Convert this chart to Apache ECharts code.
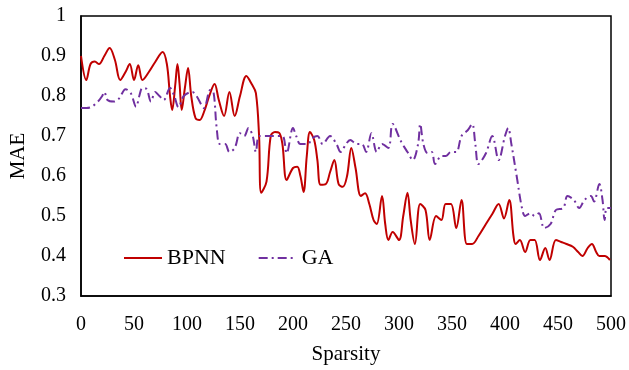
<!DOCTYPE html>
<html lang="en">
<head>
    <meta charset="UTF-8">
    <title>MAE vs Sparsity</title>
    <script src="https://cdn.jsdelivr.net/npm/echarts@6/dist/echarts.min.js"></script>
    <style>
        html, body { margin: 0; padding: 0; background: #fff; }
        #chart { width: 629px; height: 370px; }
    </style>
</head>
<body>
<div id="chart"></div>
<script>
    // [sparsity, MAE]
    let bpnn = [
        [0, 0.90], [5, 0.84], [9, 0.88], [13, 0.886], [17, 0.88], [22, 0.90], [27, 0.92], [32, 0.89],
        [37, 0.84], [42, 0.86], [46, 0.88], [50, 0.84], [54, 0.877], [58, 0.84], [64, 0.86], [70, 0.885],
        [77, 0.91], [81, 0.88], [84, 0.80], [86, 0.765], [89, 0.83], [91, 0.88], [93, 0.83], [95, 0.765],
        [98, 0.82], [101, 0.87], [104, 0.80], [108, 0.745], [112, 0.74], [116, 0.76], [121, 0.80], [126, 0.83],
        [130, 0.79], [135, 0.75], [140, 0.81], [145, 0.75], [150, 0.80], [156, 0.85], [161, 0.83], [165, 0.807],
        [168, 0.70], [170, 0.558], [175, 0.586], [179, 0.70], [183, 0.71], [187, 0.708], [190, 0.68], [194, 0.59],
        [200, 0.62], [204, 0.623], [207, 0.60], [210, 0.56], [213, 0.65], [216, 0.71], [220, 0.69], [223, 0.64],
        [226, 0.578], [231, 0.58], [235, 0.61], [239, 0.64], [243, 0.58], [247, 0.573], [251, 0.60], [255, 0.67],
        [259, 0.62], [264, 0.55], [268, 0.557], [272, 0.53], [276, 0.49], [279, 0.48], [284, 0.55], [287, 0.48],
        [290, 0.44], [294, 0.46], [300, 0.44], [304, 0.50], [308, 0.558], [311, 0.49], [315, 0.43], [320, 0.53],
        [325, 0.515], [329, 0.44], [335, 0.50], [340, 0.49], [344, 0.53], [349, 0.53], [354, 0.47], [359, 0.54],
        [364, 0.43], [369, 0.43], [375, 0.45], [382, 0.48], [388, 0.505], [394, 0.53], [399, 0.494], [404, 0.54],
        [408, 0.45], [410, 0.43], [414, 0.44], [419, 0.41], [424, 0.44], [428, 0.44], [433, 0.39], [438, 0.42],
        [442, 0.39], [448, 0.44], [453, 0.435], [458, 0.43], [464, 0.423], [469, 0.41], [473, 0.40], [478, 0.42],
        [482, 0.43], [486, 0.41], [489, 0.40], [494, 0.40], [499, 0.39]
    ];
    let ga = [
        [0, 0.77], [5, 0.77], [10, 0.773], [16, 0.786], [20, 0.80], [22, 0.81], [25, 0.79], [31, 0.786],
        [36, 0.794], [42, 0.817], [47, 0.807], [52, 0.773], [55, 0.80], [58, 0.82], [62, 0.817], [66, 0.786],
        [70, 0.81], [74, 0.80], [78, 0.79], [84, 0.82], [88, 0.80], [92, 0.772], [97, 0.80], [105, 0.81],
        [109, 0.80], [116, 0.77], [122, 0.815], [125, 0.81], [128, 0.72], [131, 0.68], [136, 0.68], [140, 0.66],
        [145, 0.67], [150, 0.707], [154, 0.70], [158, 0.72], [162, 0.70], [165, 0.66], [168, 0.70], [175, 0.70],
        [183, 0.70], [190, 0.70], [194, 0.657], [200, 0.72], [203, 0.70], [207, 0.68], [214, 0.68], [218, 0.694],
        [223, 0.70], [228, 0.68], [235, 0.70], [241, 0.68], [245, 0.66], [250, 0.68], [254, 0.69], [260, 0.68],
        [265, 0.68], [269, 0.66], [274, 0.707], [279, 0.66], [284, 0.68], [290, 0.67], [294, 0.73], [302, 0.686],
        [308, 0.66], [313, 0.64], [318, 0.68], [320, 0.73], [323, 0.68], [327, 0.657], [331, 0.66], [334, 0.63],
        [340, 0.65], [344, 0.65], [349, 0.66], [354, 0.66], [359, 0.70], [365, 0.715], [369, 0.73], [372, 0.68],
        [375, 0.63], [382, 0.657], [388, 0.70], [394, 0.64], [400, 0.70], [403, 0.72], [406, 0.68], [411, 0.60],
        [416, 0.52], [419, 0.50], [424, 0.507], [428, 0.50], [432, 0.507], [437, 0.47], [443, 0.48], [448, 0.515],
        [455, 0.52], [459, 0.55], [465, 0.54], [470, 0.52], [475, 0.54], [481, 0.55], [484, 0.536], [489, 0.58],
        [492, 0.54], [494, 0.49], [496, 0.52], [500, 0.52]
    ];
    let seriesNames = ['BPNN', 'GA'];
    let seriesColors = ['#C00000', '#7030A0'];

    let font = 'Liberation Serif';

    let myChart = echarts.init(document.getElementById('chart'), null, {renderer: 'canvas'});
    let option = {
        backgroundColor: '#fff',
        animation: false,
        grid: {
            left: 81, right: 12, top: 16, bottom: 74,
            show: true, borderColor: '#000', borderWidth: 1.5
        },
        legend: {
            data: seriesNames,
            left: 118, top: 242,
            itemWidth: 38, itemHeight: 14, itemGap: 32,
            itemStyle: {opacity: 0},   // 只要线，不要圆点
            textStyle: {fontFamily: font, fontSize: 22, color: '#000'}
        },
        xAxis: {
            type: 'value',
            min: 0, max: 500, interval: 50,
            name: 'Sparsity',
            nameLocation: 'middle',
            nameGap: 48,
            nameTextStyle: {fontFamily: font, fontSize: 21, color: '#000'},
            axisLine: {show: true, lineStyle: {color: '#000', width: 1.5}},
            axisTick: {show: false},
            splitLine: {show: false},
            axisLabel: {fontFamily: font, fontSize: 20, color: '#000', margin: 19}
        },
        yAxis: {
            type: 'value',
            min: 0.3, max: 1, interval: 0.1,
            name: 'MAE',
            nameLocation: 'middle',
            nameGap: 52,
            nameRotate: 90,
            nameTextStyle: {fontFamily: font, fontSize: 21, color: '#000'},
            axisLine: {show: true, lineStyle: {color: '#000', width: 1.5}},
            axisTick: {show: false},
            splitLine: {show: false},
            axisLabel: {
                fontFamily: font, fontSize: 20, color: '#000', margin: 15,
                formatter: v => String(Math.round(v * 10) / 10)
            }
        },
        series: [
            {
                name: seriesNames[0],
                type: 'line',
                data: bpnn,
                smooth: 0.35,
                symbol: 'none',
                color: seriesColors[0],
                lineStyle: {color: seriesColors[0], width: 2}
            },
            {
                name: seriesNames[1],
                type: 'line',
                data: ga,
                smooth: 0.35,
                symbol: 'none',
                color: seriesColors[1],
                lineStyle: {color: seriesColors[1], width: 2, type: [9, 4, 2, 4]}
            }
        ]
    };
    myChart.setOption(option);
</script>
</body>
</html>
